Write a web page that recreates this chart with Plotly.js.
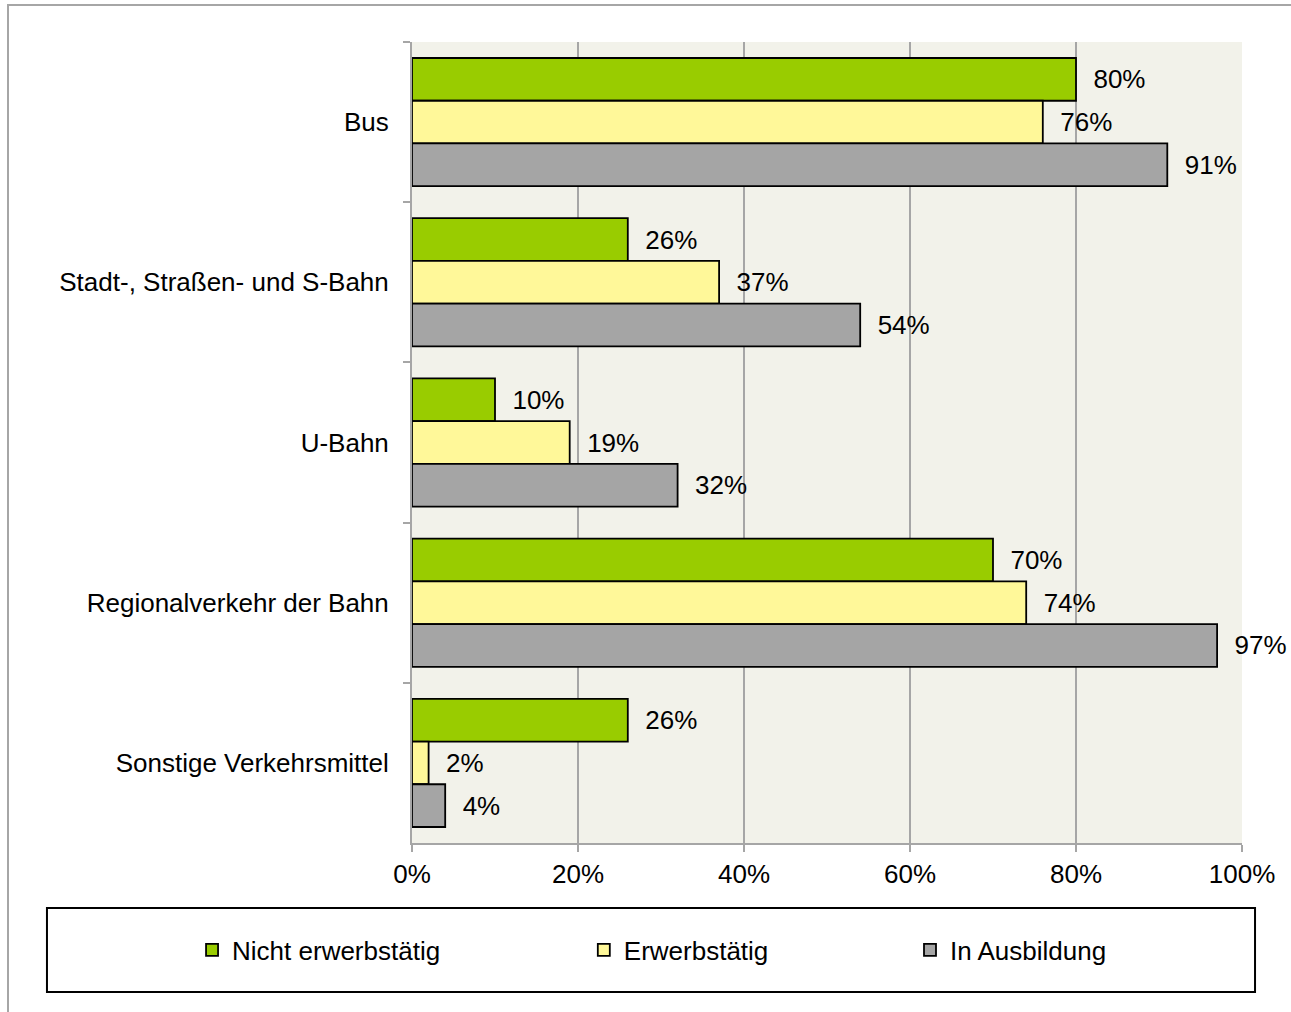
<!DOCTYPE html>
<html>
<head>
<meta charset="utf-8">
<script src="https://cdn.plot.ly/plotly-3.0.1.min.js"></script>
<style>
  body { margin: 0; background: #fff; }
  #chart { width: 1291px; height: 1012px; }
  #frame {
    position: absolute; left: 7px; top: 4px; width: 1400px; height: 1100px;
    border-left: 2px solid #a6a6a6; border-top: 2px solid #a6a6a6;
    pointer-events: none;
  }
</style>
</head>
<body>
<div id="chart"></div>
<div id="frame"></div>
<script>
const categories = ['Bus', 'Stadt-, Straßen- und S-Bahn', 'U-Bahn', 'Regionalverkehr der Bahn', 'Sonstige Verkehrsmittel'];
const seriesNames = ['Nicht erwerbstätig', 'Erwerbstätig', 'In Ausbildung'];
const nichtErwerbstaetig = [80, 26, 10, 70, 26];
const erwerbstaetig = [76, 37, 19, 74, 2];
const inAusbildung = [91, 54, 32, 97, 4];
const colors = ['#99cc00', '#fff899', '#a5a5a5'];

const font = { family: 'Liberation Sans, Arial, sans-serif', size: 26, color: '#000' };
const values = [nichtErwerbstaetig, erwerbstaetig, inAusbildung];
const legendIds = ['legend', 'legend2', 'legend3'];

const traces = values.map((vals, i) => ({
  type: 'bar',
  orientation: 'h',
  name: seriesNames[i],
  x: vals,
  y: categories,
  legend: legendIds[i],
  showlegend: true,
  marker: { color: colors[i], line: { color: '#000', width: 1.8 } },
  texttemplate: '\u00a0\u00a0%{x}',
  textposition: 'outside',
  constraintext: 'none',
  cliponaxis: false,
  textfont: font,
  hoverinfo: 'skip'
}));

const legendBase = {
  orientation: 'h',
  yanchor: 'middle',
  xanchor: 'left',
  y: -0.1336,
  font: font,
  bgcolor: 'rgba(0,0,0,0)',
  borderwidth: 0,
  itemwidth: 30
};

const layout = {
  width: 1291,
  height: 1012,
  margin: { l: 412, r: 49, t: 42, b: 169 },
  paper_bgcolor: '#fff',
  plot_bgcolor: '#f2f2ea',
  font: font,
  showlegend: true,
  barmode: 'group',
  bargap: 0.2,
  bargroupgap: 0,
  xaxis: {
    range: [0, 100],
    dtick: 20,
    ticksuffix: '%',
    showgrid: true,
    gridcolor: '#a6a6a6',
    gridwidth: 2,
    showline: true,
    linecolor: '#a6a6a6',
    linewidth: 2,
    ticks: 'outside',
    ticklen: 7,
    tickwidth: 2,
    tickcolor: '#a6a6a6',
    zeroline: false,
    fixedrange: true
  },
  yaxis: {
    autorange: 'reversed',
    showgrid: false,
    showline: true,
    linecolor: '#a6a6a6',
    linewidth: 2,
    ticks: 'outside',
    tickson: 'boundaries',
    ticklen: 7,
    tickwidth: 2,
    tickcolor: '#a6a6a6',
    ticklabelstandoff: 16,
    fixedrange: true
  },
  legend: { ...legendBase, x: -0.265 },
  legend2: { ...legendBase, x: 0.207 },
  legend3: { ...legendBase, x: 0.6 },
  shapes: [{
    type: 'rect', xref: 'paper', yref: 'paper',
    x0: -0.4398, x1: 1.0157, y0: -0.186, y1: -0.0811,
    line: { color: '#000', width: 2 }, fillcolor: 'rgba(0,0,0,0)', layer: 'below'
  }]
};

Plotly.newPlot('chart', traces, layout, { displayModeBar: false, staticPlot: true });
</script>
</body>
</html>
